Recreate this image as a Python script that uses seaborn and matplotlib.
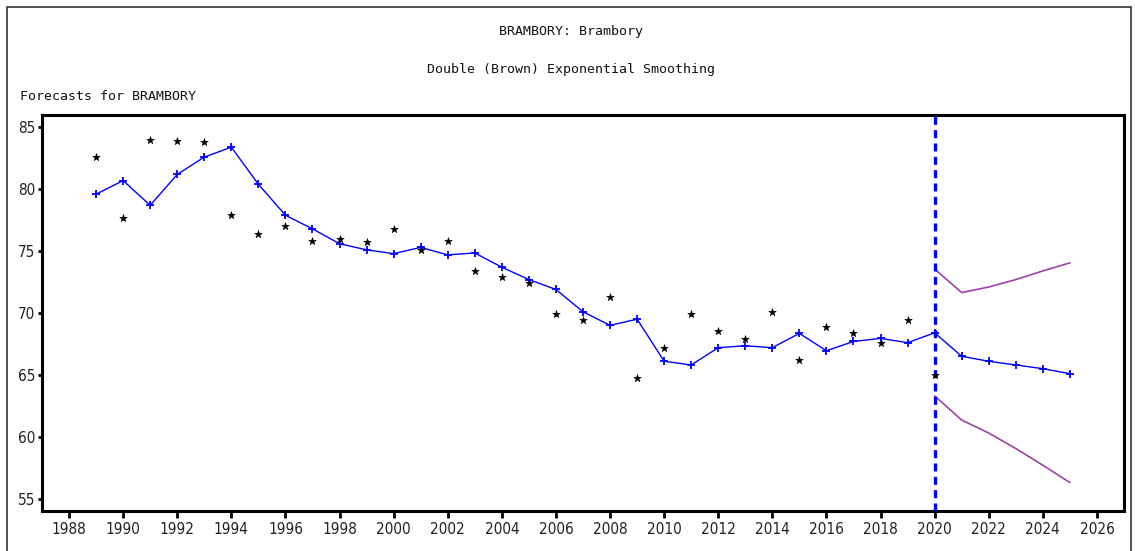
import matplotlib
matplotlib.use("Agg")
import matplotlib.pyplot as plt
import matplotlib.patches as mpatches
import seaborn as sns
import pandas as pd

# ---- data ----
years_hist = list(range(1989, 2021))
actual = [82.6, 77.7, 84.0, 83.9, 83.8, 77.9, 76.4, 77.0, 75.85, 76.0,
          75.7, 76.8, 75.1, 75.85, 73.4, 72.9, 72.4, 69.9, 69.4, 71.3,
          64.75, 67.2, 69.9, 68.55, 67.9, 70.05, 66.2, 68.9, 68.4, 67.6,
          69.4, 65.0]
years_fit = list(range(1989, 2026))
fitted = [79.6, 80.7, 78.7, 81.2, 82.6, 83.4, 80.4, 77.9, 76.8, 75.6,
          75.1, 74.8, 75.3, 74.7, 74.85, 73.7, 72.7, 71.9, 70.1, 69.0,
          69.5, 66.1, 65.8, 67.2, 67.35, 67.2, 68.35, 66.95, 67.7, 67.95,
          67.6, 68.4, 66.5, 66.1, 65.8, 65.5, 65.1]
years_fc = list(range(2020, 2026))
upper = [73.55, 71.65, 72.1, 72.7, 73.4, 74.05]
lower = [63.3, 61.35, 60.3, 59.05, 57.7, 56.3]
forecast_origin = 2020
x_ticks = list(range(1988, 2027, 2))
y_ticks = [55, 60, 65, 70, 75, 80, 85]

title1 = "BRAMBORY: Brambory"
title2 = "Double (Brown) Exponential Smoothing"
subtitle = "Forecasts for BRAMBORY"

df_act = pd.DataFrame({"year": years_hist, "value": actual})
df_fit = pd.DataFrame({"year": years_fit, "value": fitted})
df_up = pd.DataFrame({"year": years_fc, "value": upper})
df_lo = pd.DataFrame({"year": years_fc, "value": lower})

sns.set_style("white")
tick_font = ["DejaVu Sans"]
mono_font = ["DejaVu Sans Mono"]

fig = plt.figure(figsize=(11.35, 5.51), dpi=100)
ax = fig.add_axes([42 / 1135, 1 - 511 / 551, (1124 - 42) / 1135, (511 - 115) / 551])

purple = "#a040a8"
sns.lineplot(data=df_up, x="year", y="value", ax=ax, color=purple, linewidth=1.2)
sns.lineplot(data=df_lo, x="year", y="value", ax=ax, color=purple, linewidth=1.2)
sns.lineplot(data=df_fit, x="year", y="value", ax=ax, color="#0000ff",
             linewidth=1.0, marker="+", markersize=5.5, markeredgewidth=1.3,
             markeredgecolor="#0000ff")
sns.scatterplot(data=df_act, x="year", y="value", ax=ax, marker="*", s=32,
                color="black", edgecolor="black", linewidth=0.4, zorder=5)
ax.axvline(forecast_origin, color="#0000ff", linewidth=2.4,
           linestyle=(0, (2.4, 1.6)), zorder=4)

ax.set_xlim(1987, 2027)
ax.set_ylim(54, 86)
ax.set_xticks(x_ticks)
ax.set_yticks(y_ticks)
ax.set_xticklabels([str(t) for t in x_ticks], family=tick_font, fontsize=11,
                   fontstretch="condensed")
ax.set_yticklabels([str(t) for t in y_ticks], family=tick_font, fontsize=11,
                   fontstretch="condensed")
ax.set_xlabel("")
ax.set_ylabel("")
ax.tick_params(axis="x", direction="out", length=5, width=2, colors="black",
               labelcolor="#222222", pad=3, bottom=True)
ax.tick_params(axis="y", direction="out", length=3, width=2, colors="black",
               labelcolor="#222222", pad=2, left=True)
for sp in ax.spines.values():
    sp.set_visible(True)
    sp.set_color("black")
    sp.set_linewidth(2.2)

fig.text(571 / 1135, 1 - 31 / 551, title1, ha="center", va="center",
         family=mono_font, fontsize=9.5, color="#111111")
fig.text(571 / 1135, 1 - 70 / 551, title2, ha="center", va="center",
         family=mono_font, fontsize=9.5, color="#111111")
fig.text(20 / 1135, 1 - 96 / 551, subtitle, ha="left", va="center",
         family=mono_font, fontsize=9.5, color="#111111")

frame = mpatches.Rectangle((7 / 1135, -0.05), (1131 - 7) / 1135, 1 - 7 / 551 + 0.05,
                           transform=fig.transFigure, fill=False,
                           edgecolor="#333333", linewidth=1.2)
fig.add_artist(frame)

fig.savefig("out.png", dpi=100)
